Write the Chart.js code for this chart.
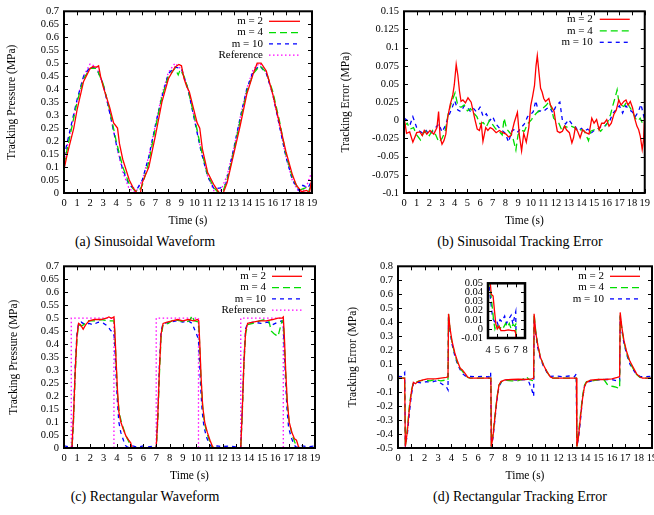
<!DOCTYPE html>
<html>
<head>
<meta charset="utf-8">
<script src="https://cdn.jsdelivr.net/npm/chart.js@4.4.1/dist/chart.umd.min.js"></script>
<style>
  body { margin: 0; background: #fff; }
  #fig { position: relative; width: 654px; height: 515px; overflow: hidden; background: #fff; }
  #fig canvas { position: absolute; }
  .cap { position: absolute; width: 300px; text-align: center; color: #000;
         font: 14px "Liberation Serif", "Times New Roman", serif; line-height: 16px; }
</style>
</head>
<body>
<div id="fig">
  <canvas id="chartA" width="327" height="230" style="left:0;top:0"></canvas>
  <canvas id="chartB" width="327" height="230" style="left:327px;top:0"></canvas>
  <canvas id="chartC" width="327" height="230" style="left:0;top:255px"></canvas>
  <canvas id="chartD" width="340" height="230" style="left:327px;top:255px"></canvas>
  <canvas id="chartInset" width="95" height="88" style="left:440px;top:272px"></canvas>
  <div class="cap" style="left:-5px;top:234px">(a) Sinusoidal Waveform</div>
  <div class="cap" style="left:370px;top:234px">(b) Sinusoidal Tracking Error</div>
  <div class="cap" style="left:-5px;top:489px">(c) Rectangular Waveform</div>
  <div class="cap" style="left:370px;top:489px">(d) Rectangular Tracking Error</div>
</div>
<script>
// Series names shared by all four panels
const seriesNames = ['m = 2', 'm = 4', 'm = 10', 'Reference'];

// (a) sinusoidal waveform, [time s, pressure MPa]
const sinRef = [[0,0.122],[0.5,0.238],[1,0.357],[1.5,0.451],[2,0.497],[2.5,0.485],[3,0.418],[3.5,0.311],
  [4,0.189],[4.5,0.082],[5,0.015],[5.5,0.003],[6,0.049],[6.5,0.143],[7,0.262],[7.5,0.379],[8,0.465],
  [8.5,0.5],[9,0.476],[9.5,0.399],[10,0.287],[10.5,0.166],[11,0.065],[11.5,0.007],[12,0.008],[12.5,0.068],
  [13,0.17],[13.5,0.291],[14,0.402],[14.5,0.477],[15,0.5],[15.5,0.465],[16,0.377],[16.5,0.26],[17,0.141],
  [17.5,0.048],[18,0.002],[18.5,0.015],[19,0.084]];
const sinM2 = [[0,0.09],[0.25,0.15],[0.5,0.2],[0.75,0.25],[1,0.32],[1.5,0.43],[2,0.48],[2.2,0.487],[2.5,0.485],
  [2.65,0.49],[2.8,0.45],[3,0.41],[3.5,0.33],[3.8,0.27],[4.1,0.25],[4.25,0.19],[4.5,0.13],[5,0.05],[5.3,0.02],
  [5.6,0],[5.85,0],[6,0.04],[6.5,0.1],[7,0.22],[7.5,0.35],[8,0.44],[8.5,0.485],[8.8,0.495],[9,0.49],[9.2,0.44],
  [9.4,0.41],[9.6,0.39],[9.9,0.33],[10.2,0.27],[10.4,0.25],[10.6,0.17],[11,0.08],[11.5,0.03],[11.9,0],[12.2,0],
  [12.5,0.04],[13,0.15],[13.5,0.26],[14,0.38],[14.5,0.46],[14.8,0.5],[15.1,0.5],[15.5,0.47],[16,0.38],[16.5,0.27],
  [17,0.16],[17.5,0.07],[17.8,0.03],[18.2,0.005],[18.6,0.01],[18.8,0],[19,0.06]];
const sinM4 = [[0,0.11],[0.5,0.23],[1,0.35],[1.5,0.44],[2,0.48],[2.5,0.48],[3,0.42],[3.5,0.32],[4,0.2],[4.5,0.1],
  [5,0.035],[5.4,0.01],[5.7,0.005],[6,0.03],[6.5,0.12],[7,0.25],[7.5,0.37],[8,0.45],[8.5,0.48],[8.75,0.455],
  [8.9,0.475],[9.2,0.45],[9.5,0.4],[10,0.29],[10.5,0.17],[11,0.07],[11.5,0.02],[11.8,0.003],[12.2,0.01],[12.5,0.05],
  [13,0.16],[13.5,0.28],[14,0.39],[14.5,0.46],[15,0.49],[15.5,0.465],[16,0.39],[16.5,0.28],[17,0.15],[17.5,0.06],
  [18,0.01],[18.5,0.02],[18.7,0],[19,0.04]];
const sinM10 = [[0,0.14],[0.5,0.25],[1,0.36],[1.5,0.45],[2,0.485],[2.5,0.48],[3,0.42],[3.5,0.31],[4,0.19],[4.5,0.09],
  [5,0.03],[5.3,0.02],[5.6,0.015],[6,0.05],[6.5,0.14],[7,0.26],[7.5,0.37],[8,0.46],[8.5,0.485],[9,0.48],[9.5,0.4],
  [10,0.28],[10.5,0.16],[11,0.065],[11.5,0.015],[12,0.02],[12.4,0.035],[13,0.17],[13.5,0.29],[14,0.4],[14.5,0.47],
  [15,0.49],[15.5,0.46],[16,0.38],[16.5,0.26],[17,0.14],[17.5,0.05],[18,0.01],[18.3,0.03],[18.7,0.02],[19,0.05]];

// (b) sinusoidal tracking error
const sinErrM2 = [[0,0.005],[0.2,-0.018],[0.45,-0.016],[0.7,-0.03],[1,-0.017],[1.25,-0.016],[1.45,-0.021],[1.6,-0.014],
  [1.8,-0.019],[2.05,-0.014],[2.35,-0.019],[2.6,-0.01],[2.73,0.012],[2.85,-0.023],[3,-0.033],[3.15,-0.028],[3.3,-0.019],
  [3.45,0.004],[3.65,0.022],[3.85,0.035],[3.97,0.049],[4.12,0.077],[4.25,0.062],[4.38,0.04],[4.5,0.026],[4.65,0.028],
  [4.85,0.024],[5.05,0.031],[5.3,0.025],[5.45,0.013],[5.6,0.001],[5.78,-0.012],[5.95,-0.014],[6.1,-0.005],[6.23,-0.029],
  [6.45,-0.01],[6.62,-0.014],[6.8,-0.01],[7,-0.012],[7.27,-0.017],[7.53,-0.014],[7.8,-0.017],[8.05,-0.019],[8.25,-0.023],
  [8.45,-0.021],[8.7,-0.003],[8.95,0.011],[9.1,-0.02],[9.28,-0.042],[9.45,-0.018],[9.65,-0.03],[9.85,-0.01],[10,0.02],
  [10.15,0.033],[10.3,0.048],[10.42,0.075],[10.52,0.089],[10.65,0.066],[10.78,0.044],[10.9,0.039],[11.03,0.03],
  [11.17,0.026],[11.3,0.028],[11.43,0.03],[11.56,0.021],[11.7,0.017],[11.85,0.012],[11.98,-0.004],[12.1,-0.015],
  [12.3,-0.017],[12.5,-0.015],[12.68,-0.008],[12.82,-0.013],[13.05,-0.017],[13.25,-0.031],[13.38,-0.024],[13.52,-0.01],
  [13.7,-0.015],[13.9,-0.024],[14.1,-0.013],[14.35,-0.017],[14.6,-0.019],[14.82,0.003],[15,-0.004],[15.2,0.001],
  [15.4,-0.013],[15.6,-0.004],[15.8,-0.004],[16,0.001],[16.18,-0.008],[16.36,-0.004],[16.56,0.008],[16.75,0.014],
  [16.95,0.028],[17.13,0.021],[17.35,0.026],[17.52,0.028],[17.68,0.021],[17.86,0.026],[18.04,0.017],[18.2,0.003],
  [18.38,-0.008],[18.52,-0.013],[18.65,-0.022],[18.8,-0.04],[18.9,-0.028],[19,0.01]];
const sinErrM4 = [[0,-0.008],[0.25,-0.004],[0.5,-0.012],[0.75,-0.01],[1,-0.02],[1.3,-0.027],[1.5,-0.018],[1.75,-0.015],
  [2,-0.021],[2.25,-0.014],[2.5,-0.02],[2.75,-0.03],[3,-0.025],[3.25,-0.015],[3.5,0.01],[3.75,0.025],[4.03,0.038],
  [4.25,0.02],[4.5,0.018],[4.75,0.021],[5,0.013],[5.25,0.016],[5.5,0.01],[5.75,0.005],[6,-0.005],[6.25,-0.003],
  [6.5,-0.009],[6.75,0],[7,-0.006],[7.25,-0.012],[7.5,-0.015],[7.75,-0.02],[7.9,0.003],[8.1,-0.012],[8.3,-0.016],
  [8.55,-0.021],[8.83,-0.041],[9,-0.02],[9.25,-0.014],[9.5,-0.015],[9.75,-0.005],[10.07,0.001],[10.2,0.005],
  [10.46,0.01],[10.72,0.014],[10.98,0.017],[11.24,0.021],[11.45,0.026],[11.63,0.017],[11.81,0.003],[12.02,-0.001],
  [12.22,-0.004],[12.49,-0.015],[12.67,-0.008],[12.93,-0.01],[13.19,-0.008],[13.45,-0.01],[13.7,-0.015],[13.97,-0.013],
  [14.23,-0.015],[14.56,-0.028],[14.74,-0.015],[15,-0.013],[15.26,-0.01],[15.52,-0.015],[15.78,-0.01],[16.04,-0.004],
  [16.3,0.008],[16.49,0.021],[16.64,0.03],[16.82,0.042],[16.95,0.026],[17.13,0.021],[17.34,0.019],[17.6,0.026],
  [17.78,0.019],[18.04,0.012],[18.25,0.003],[18.46,-0.001],[18.64,0.003],[18.82,-0.004],[19,0]];
const sinErrM10 = [[0,0.003],[0.25,0],[0.5,-0.005],[0.7,0.005],[1,-0.01],[1.25,-0.015],[1.5,-0.018],[1.75,-0.014],
  [2,-0.02],[2.25,-0.015],[2.5,-0.01],[2.75,-0.005],[3,-0.016],[3.25,-0.008],[3.5,0.005],[3.75,0.015],[4,0.027],
  [4.25,0.014],[4.5,0.012],[4.75,0.02],[5,0.018],[5.25,0.012],[5.5,0.016],[5.75,0.011],[6,0.018],[6.25,0.005],
  [6.5,0.009],[6.75,-0.001],[7,0.005],[7.25,-0.005],[7.5,-0.01],[7.75,-0.014],[8,-0.018],[8.25,-0.03],[8.5,-0.015],
  [8.75,-0.012],[9,-0.016],[9.25,-0.01],[9.5,-0.005],[9.75,0.005],[10,0.008],[10.2,0.012],[10.4,0.027],[10.6,0.012],
  [10.8,0.013],[11,0.012],[11.25,0.016],[11.5,0.018],[11.75,0.01],[12,0.02],[12.3,0.025],[12.5,0],[12.75,-0.005],
  [13,0.001],[13.25,-0.005],[13.5,-0.008],[13.75,-0.015],[14,-0.011],[14.25,-0.015],[14.5,-0.012],[14.75,-0.018],
  [15,-0.014],[15.25,-0.012],[15.5,-0.009],[15.75,-0.01],[16,-0.005],[16.25,0],[16.5,0.01],[16.75,0.015],[17,0.02],
  [17.25,0.01],[17.5,0.02],[17.75,0.015],[18,0.012],[18.25,0.005],[18.5,0.012],[18.7,0.022],[19,0]];

// (c) rectangular waveform
const rectRef = [[0,0],[0.55,0],[0.55,0.5],[3.78,0.5],[3.78,0],[6.98,0],[6.98,0.5],[10.18,0.5],[10.18,0],
  [13.38,0],[13.38,0.5],[16.6,0.5],[16.6,0],[19,0]];
const rectM2 = [[0,0],[0.6,0],[0.72,0.12],[0.85,0.3],[0.98,0.43],[1.1,0.48],[1.25,0.475],[1.45,0.458],[1.65,0.475],
  [1.9,0.49],[2.3,0.495],[2.8,0.495],[3.2,0.5],[3.4,0.505],[3.6,0.5],[3.78,0.505],[3.85,0.45],[3.95,0.33],[4.05,0.22],
  [4.15,0.14],[4.3,0.1],[4.5,0.07],[4.7,0.045],[4.9,0.03],[5.05,0.02],[5.15,0],[6.98,0],[7.1,0.12],[7.22,0.3],
  [7.35,0.44],[7.5,0.48],[7.8,0.485],[8.2,0.49],[8.6,0.495],[9,0.49],[9.4,0.495],[9.8,0.49],[10.1,0.495],[10.2,0.49],
  [10.28,0.4],[10.38,0.27],[10.5,0.16],[10.65,0.1],[10.85,0.06],[11.05,0.03],[11.25,0.005],[11.4,0],[13.38,0],
  [13.5,0.15],[13.62,0.33],[13.75,0.45],[13.9,0.48],[14.3,0.485],[14.8,0.49],[15.3,0.49],[15.8,0.495],[16.2,0.5],
  [16.5,0.5],[16.6,0.505],[16.68,0.43],[16.78,0.3],[16.9,0.18],[17.05,0.1],[17.25,0.06],[17.45,0.035],[17.6,0.03],
  [17.75,0.005],[17.85,0],[19,0]];
const rectM4 = [[0,0],[0.6,0],[0.72,0.1],[0.85,0.28],[0.98,0.42],[1.1,0.475],[1.3,0.47],[1.5,0.475],[1.8,0.49],
  [2.3,0.49],[2.8,0.495],[3.3,0.49],[3.78,0.49],[3.86,0.43],[3.96,0.31],[4.06,0.2],[4.2,0.13],[4.4,0.09],[4.6,0.06],
  [4.8,0.035],[5,0.015],[5.1,0],[6.98,0],[7.1,0.1],[7.22,0.28],[7.35,0.43],[7.5,0.475],[7.9,0.48],[8.3,0.495],
  [8.8,0.49],[9.2,0.485],[9.5,0.49],[9.7,0.51],[9.85,0.49],[10.18,0.485],[10.26,0.41],[10.36,0.28],[10.48,0.17],
  [10.62,0.1],[10.8,0.06],[11,0.03],[11.2,0.005],[11.3,0],[13.38,0],[13.5,0.14],[13.62,0.32],[13.75,0.44],
  [13.9,0.475],[14.3,0.48],[14.8,0.49],[15.2,0.495],[15.5,0.49],[15.7,0.45],[15.9,0.44],[16.05,0.435],[16.2,0.43],
  [16.35,0.46],[16.5,0.49],[16.6,0.49],[16.68,0.41],[16.78,0.29],[16.9,0.17],[17.05,0.1],[17.25,0.055],[17.45,0.025],
  [17.6,0.005],[17.7,0],[19,0]];
const rectM10 = [[0,0.008],[0.3,0.005],[0.55,0],[0.62,0],[0.72,0.13],[0.85,0.32],[0.98,0.44],[1.1,0.48],[1.3,0.485],
  [1.6,0.475],[1.9,0.48],[2.2,0.475],[2.6,0.485],[3,0.48],[3.3,0.47],[3.5,0.455],[3.78,0.44],[3.84,0.4],[3.94,0.28],
  [4.04,0.18],[4.15,0.1],[4.3,0.06],[4.5,0.03],[4.65,0.01],[4.8,0.003],[5.2,0.008],[5.6,0.003],[6,0.008],[6.4,0.004],
  [6.8,0.008],[6.98,0],[7.1,0.13],[7.22,0.32],[7.35,0.45],[7.5,0.48],[8,0.485],[8.5,0.49],[9,0.485],[9.4,0.49],
  [9.7,0.48],[9.9,0.455],[10.1,0.43],[10.18,0.42],[10.24,0.36],[10.34,0.24],[10.46,0.14],[10.6,0.08],[10.8,0.04],
  [11,0.015],[11.2,0.003],[11.6,0.008],[12,0.005],[12.5,0.008],[13,0.004],[13.38,0],[13.5,0.16],[13.62,0.34],
  [13.75,0.46],[13.9,0.48],[14.4,0.485],[14.9,0.48],[15.4,0.485],[15.8,0.475],[16.2,0.485],[16.5,0.49],[16.6,0.47],
  [16.66,0.4],[16.76,0.27],[16.88,0.15],[17,0.08],[17.2,0.04],[17.4,0.015],[17.55,0.003],[18,0.008],[18.5,0.005],
  [19,0.008]];

// (d) rectangular tracking error
const rectErrM2 = [[0,0],[0.5,0],[0.55,-0.49],[0.7,-0.38],[0.85,-0.22],[1,-0.1],[1.15,-0.03],[1.3,-0.04],[1.5,-0.025],
  [1.8,-0.015],[2.2,-0.005],[2.8,-0.005],[3.2,0],[3.6,0.005],[3.74,0.008],[3.78,0.46],[3.9,0.35],[4.05,0.26],
  [4.25,0.18],[4.45,0.12],[4.65,0.07],[4.8,0.06],[5,0.035],[5.2,0.008],[5.4,0],[6.95,0],[6.98,-0.49],[7.1,-0.42],
  [7.25,-0.28],[7.4,-0.15],[7.55,-0.05],[7.7,-0.025],[8,-0.012],[8.5,-0.01],[9,-0.008],[9.5,-0.01],[10,-0.005],
  [10.15,0],[10.18,0.46],[10.3,0.33],[10.45,0.24],[10.65,0.15],[10.9,0.09],[11.15,0.045],[11.4,0.008],[11.6,0],
  [13.35,0],[13.38,-0.49],[13.5,-0.42],[13.65,-0.28],[13.8,-0.15],[13.95,-0.06],[14.1,-0.03],[14.4,-0.015],[15,-0.01],
  [15.5,-0.01],[16,-0.005],[16.4,0.005],[16.58,0.01],[16.62,0.47],[16.75,0.36],[16.9,0.27],[17.1,0.19],[17.35,0.12],
  [17.6,0.075],[17.85,0.03],[18.1,0.008],[18.3,0],[19,0]];
const rectErrM4 = [[0,0],[0.5,0],[0.55,-0.49],[0.7,-0.36],[0.85,-0.2],[1,-0.09],[1.15,-0.03],[1.35,-0.03],[1.6,-0.02],
  [2,-0.015],[2.4,-0.02],[2.8,-0.01],[3.2,-0.02],[3.5,-0.015],[3.74,-0.015],[3.78,0.46],[3.9,0.34],[4.05,0.25],
  [4.25,0.17],[4.45,0.11],[4.65,0.07],[4.85,0.045],[5.05,0.02],[5.25,0.003],[5.4,0],[6.95,0],[6.98,-0.49],[7.1,-0.4],
  [7.25,-0.27],[7.4,-0.14],[7.55,-0.05],[7.75,-0.025],[8,-0.015],[8.5,-0.02],[8.9,-0.02],[9.3,-0.01],[9.6,0.01],
  [9.8,-0.01],[10.15,-0.02],[10.18,0.46],[10.3,0.34],[10.45,0.24],[10.65,0.15],[10.9,0.09],[11.15,0.045],[11.4,0.006],
  [11.6,0],[13.35,0],[13.38,-0.49],[13.5,-0.4],[13.65,-0.26],[13.8,-0.13],[13.95,-0.05],[14.1,-0.025],[14.5,-0.02],
  [15,-0.01],[15.4,-0.01],[15.7,-0.05],[15.9,-0.055],[16.1,-0.06],[16.3,-0.065],[16.58,-0.075],[16.62,0.45],
  [16.75,0.35],[16.9,0.26],[17.1,0.18],[17.35,0.11],[17.6,0.065],[17.85,0.025],[18.1,0.005],[18.3,0],[19,0]];
const rectErrM10 = [[0,0.012],[0.3,0.01],[0.5,0.04],[0.55,-0.49],[0.7,-0.4],[0.85,-0.25],[1,-0.12],[1.15,-0.04],
  [1.3,-0.02],[1.5,-0.03],[1.8,-0.035],[2.1,-0.025],[2.5,-0.03],[2.8,-0.02],[3.1,-0.03],[3.4,-0.05],[3.6,-0.06],
  [3.74,-0.085],[3.78,0.44],[3.9,0.33],[4.05,0.24],[4.25,0.16],[4.45,0.1],[4.65,0.06],[4.85,0.03],[5.05,0.015],
  [5.3,0.012],[5.8,0.01],[6.3,0.012],[6.8,0.008],[6.93,0.04],[6.98,-0.49],[7.1,-0.43],[7.25,-0.3],[7.4,-0.16],
  [7.55,-0.06],[7.75,-0.025],[8,-0.015],[8.5,-0.012],[9,-0.015],[9.5,-0.01],[9.8,-0.03],[10,-0.08],[10.15,-0.13],
  [10.18,0.42],[10.3,0.32],[10.45,0.22],[10.65,0.14],[10.9,0.08],[11.15,0.04],[11.4,0.012],[11.8,0.015],[12.3,0.01],
  [12.8,0.015],[13.2,0.01],[13.33,0.03],[13.38,-0.49],[13.5,-0.43],[13.65,-0.3],[13.8,-0.15],[13.95,-0.06],[14.1,-0.03],
  [14.5,-0.02],[15,-0.012],[15.5,-0.01],[16,-0.01],[16.4,-0.02],[16.58,-0.025],[16.62,0.44],[16.75,0.34],[16.9,0.25],
  [17.1,0.17],[17.35,0.1],[17.6,0.06],[17.85,0.025],[18.1,0.012],[18.5,0.01],[19,0.012]];

// (d) inset, close-up of 4..8 s
const insetM2 = [[4,0.09],[4.25,0.05],[4.35,0.038],[4.55,0.036],[4.7,0.02],[4.85,0.005],[5,0],[5.2,0.003],
  [5.4,-0.002],[5.8,-0.002],[6.2,-0.001],[6.6,-0.002],[6.9,-0.002],[7,-0.005],[7.05,-0.03]];
const insetM4 = [[4,0.09],[4.2,0.05],[4.4,0.03],[4.6,0.01],[4.75,0],[4.9,0.005],[5.1,0.002],[5.3,0],[5.5,0.004],
  [5.7,0.002],[5.9,0.006],[6.1,0.002],[6.3,0.006],[6.5,0],[6.7,0.005],[6.9,0.003],[7,0.005],[7.05,-0.03]];
const insetM10 = [[4,0.09],[4.1,0.05],[4.3,0.03],[4.5,0.012],[4.7,0.008],[4.9,0.01],[5.1,0.004],[5.3,0.01],
  [5.5,0.008],[5.8,0.014],[6,0.006],[6.2,0.01],[6.5,0.015],[6.7,0.005],[6.9,0.015],[7,0.019],[7.05,-0.03]];

const SERIF = '"Liberation Serif", "Times New Roman", serif';
const lineColors = ['#ff0000', '#00dd00', '#0000ff', '#ff00ff'];
const lineDashes = [[], [7, 4], [4, 4], [1.5, 2.5]];

Chart.defaults.font.family = SERIF;
Chart.defaults.font.size = 10.5;
Chart.defaults.font.weight = 'normal';
Chart.defaults.color = '#000';

function fmt(v) {
  const r = Math.round(v * 1000) / 1000;
  return r === 0 ? '0' : String(r);
}

// Frame and inward ticks on all four sides, gnuplot style
function framePlugin(width) {
  return {
    id: 'frame',
    afterDatasetsDraw(chart) {
      const {ctx, chartArea: a, scales: {x, y}} = chart;
      ctx.save();
      ctx.strokeStyle = '#000';
      ctx.lineWidth = 1;
      ctx.beginPath();
      x.ticks.forEach(t => {
        const p = Math.round(x.getPixelForValue(t.value)) + 0.5;
        ctx.moveTo(p, a.bottom); ctx.lineTo(p, a.bottom - 4);
        ctx.moveTo(p, a.top); ctx.lineTo(p, a.top + 4);
      });
      y.ticks.forEach(t => {
        const p = Math.round(y.getPixelForValue(t.value)) + 0.5;
        ctx.moveTo(a.left, p); ctx.lineTo(a.left + 4, p);
        ctx.moveTo(a.right, p); ctx.lineTo(a.right - 4, p);
      });
      ctx.stroke();
      ctx.lineWidth = width;
      ctx.strokeRect(a.left, a.top, a.width, a.height);
      ctx.restore();
    }
  };
}

// Key in the top right corner: text right aligned, sample line to its right
function keyPlugin(k) {
  return {
    id: 'key',
    afterDatasetsDraw(chart) {
      if (!k) return;
      const {ctx, chartArea: a} = chart;
      ctx.save();
      ctx.font = 'normal 11px ' + SERIF;
      ctx.textAlign = 'right';
      ctx.textBaseline = 'middle';
      chart.data.datasets.forEach((ds, i) => {
        const yy = a.top + k.top + i * k.row;
        const x2 = a.right - k.right, x1 = x2 - k.len;
        ctx.fillStyle = '#000';
        ctx.fillText(ds.label, x1 - k.gap, yy);
        ctx.strokeStyle = ds.borderColor;
        ctx.lineWidth = ds.borderWidth;
        ctx.setLineDash(ds.borderDash);
        ctx.beginPath();
        ctx.moveTo(x1, yy); ctx.lineTo(x2, yy);
        ctx.stroke();
        ctx.setLineDash([]);
      });
      ctx.restore();
    }
  };
}

function makeChart(id, c) {
  const canvas = document.getElementById(id);
  const W = canvas.width, H = canvas.height;
  const datasets = c.series.map((pts, i) => ({
    label: seriesNames[i],
    data: pts.map(([x, y]) => ({x, y})),
    borderColor: lineColors[i],
    borderDash: lineDashes[i],
    borderWidth: 1.3,
    pointRadius: 0,
    tension: 0,
    fill: false
  }));
  const titleFont = {size: 11.5, weight: 'normal'};
  return new Chart(canvas, {
    type: 'line',
    data: {datasets},
    options: {
      responsive: false,
      animation: false,
      layout: {padding: {left: 0, top: c.area.top, right: W - c.area.right, bottom: 0}},
      plugins: {legend: {display: false}, tooltip: {enabled: false}},
      scales: {
        x: {
          type: 'linear', min: c.x[0], max: c.x[1],
          ticks: {stepSize: 1, autoSkip: false, maxRotation: 0, padding: c.xPad || 4, callback: fmt},
          grid: {display: false, drawTicks: false},
          border: {display: false},
          title: {display: !!c.xTitle, text: c.xTitle, font: titleFont, padding: {top: 0, bottom: 2}},
          afterFit: s => { s.height = H - c.area.bottom; }
        },
        y: {
          min: c.y[0], max: c.y[1],
          ticks: {stepSize: c.y[2], autoSkip: false, padding: 5, callback: fmt},
          grid: {display: false, drawTicks: false},
          border: {display: false},
          title: {display: !!c.yTitle, text: c.yTitle, font: titleFont, padding: {top: c.yTitlePad || 6, bottom: 0}},
          afterFit: s => { s.width = c.area.left; }
        }
      }
    },
    plugins: [framePlugin(c.frame || 2), keyPlugin(c.key)]
  });
}

makeChart('chartA', {
  series: [sinM2, sinM4, sinM10, sinRef],
  x: [0, 19], y: [0, 0.7, 0.05],
  area: {left: 64, right: 312, top: 6, bottom: 193},
  xTitle: 'Time (s)', yTitle: 'Tracking Pressure (MPa)', yTitlePad: 5.5,
  key: {right: 12, len: 31, gap: 6, top: 10, row: 11.3}
});
makeChart('chartB', {
  series: [sinErrM2, sinErrM4, sinErrM10],
  x: [0, 19], y: [-0.1, 0.15, 0.025],
  area: {left: 77, right: 321, top: 8, bottom: 193},
  xTitle: 'Time (s)', yTitle: 'Tracking Error (MPa)', yTitlePad: 12,
  key: {right: 15, len: 30, gap: 7, top: 8, row: 11.5}
});
makeChart('chartC', {
  series: [rectM2, rectM4, rectM10, rectRef],
  x: [0, 19], y: [0, 0.7, 0.05],
  area: {left: 64, right: 315, top: 6, bottom: 193},
  xTitle: 'Time (s)', yTitle: 'Tracking Pressure (MPa)', yTitlePad: 7,
  key: {right: 13, len: 30, gap: 6, top: 10, row: 11.3}
});
makeChart('chartD', {
  series: [rectErrM2, rectErrM4, rectErrM10],
  x: [0, 19], y: [-0.5, 0.8, 0.1],
  area: {left: 71, right: 325, top: 6, bottom: 193},
  xTitle: 'Time (s)', yTitle: 'Tracking Error (MPa)', yTitlePad: 19,
  key: {right: 12, len: 30, gap: 6, top: 10, row: 11.3}
});
makeChart('chartInset', {
  series: [insetM2, insetM4, insetM10],
  x: [4, 8], y: [-0.01, 0.05, 0.01],
  area: {left: 48, right: 85, top: 9, bottom: 66},
  xPad: 6, frame: 2.5
});
</script>
</body>
</html>
